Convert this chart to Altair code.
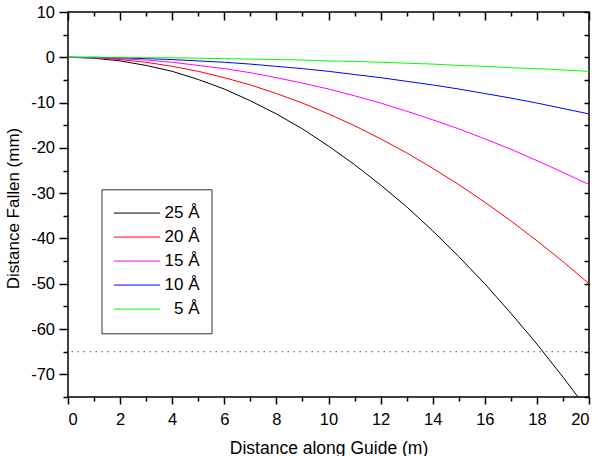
import altair as alt
import pandas as pd

FONT = "Liberation Sans"

# Distance along the guide (m)
distance_m = list(range(0, 21))

# Fall of the beam (mm) for each neutron wavelength
fall_25 = [0, -0.2, -0.8, -1.8, -3.1, -4.9, -7.0, -9.6, -12.5, -15.8, -19.6,
           -23.7, -28.2, -33.0, -38.3, -44.0, -50.0, -56.5, -63.3, -70.6, -78.2]
fall_20 = [0, -0.1, -0.5, -1.1, -2.0, -3.1, -4.5, -6.1, -8.0, -10.1, -12.5,
           -15.1, -18.0, -21.1, -24.5, -28.1, -32.0, -36.1, -40.5, -45.1, -50.0]
fall_15 = [0, -0.1, -0.3, -0.6, -1.1, -1.8, -2.5, -3.4, -4.5, -5.7, -7.0,
           -8.5, -10.1, -11.9, -13.8, -15.8, -18.0, -20.3, -22.8, -25.4, -28.1]
fall_10 = [0, 0.0, -0.1, -0.3, -0.5, -0.8, -1.1, -1.5, -2.0, -2.5, -3.1,
           -3.8, -4.5, -5.3, -6.1, -7.0, -8.0, -9.0, -10.1, -11.3, -12.5]
fall_5 = [0, 0.0, 0.0, -0.1, -0.1, -0.2, -0.3, -0.4, -0.5, -0.6, -0.8,
          -0.9, -1.1, -1.3, -1.5, -1.8, -2.0, -2.3, -2.5, -2.8, -3.1]

wavelengths = ["25 Å", "20 Å", "15 Å", "10 Å", "5 Å"]
line_colors = ["#000000", "#ff0000", "#ff00ff", "#0000ff", "#00ff00"]

# Guide aperture limit (mm)
limit_mm = [-65]

rows = []
for label, series in zip(wavelengths, [fall_25, fall_20, fall_15, fall_10, fall_5]):
    for x, y in zip(distance_m, series):
        rows.append({"distance": x, "fallen": y, "wavelength": label})
df = pd.DataFrame(rows)

W, H = 521, 385
x_scale = alt.Scale(domain=[0, 20], nice=False)
y_scale = alt.Scale(domain=[-75, 10], nice=False, zero=False)

major_x = list(range(0, 21, 2))
minor_x = list(range(1, 20, 2))
major_y = list(range(-70, 11, 10))
minor_y = list(range(-75, 10, 10))
all_y = list(range(-75, 11, 5))

common = dict(domain=False, grid=False, tickColor="black", tickWidth=1.5)
# plain hyphen for negative tick labels
hyphen = "replace(datum.label, '\u2212', '-')"


def blank_axis(orient, values, size, offset=0):
    return alt.Axis(orient=orient, values=values, tickSize=size, labels=False,
                    title=None, offset=offset, **common)


base = alt.Chart(df)

curves = base.mark_line(strokeWidth=1, clip=True).encode(
    x=alt.X("distance:Q", scale=x_scale,
            axis=alt.Axis(orient="bottom", values=major_x, tickSize=7,
                          labelPadding=7, labelFontSize=16.5, labelFont=FONT,
                          labelColor="black",
                          title="Distance along Guide (m)", titleFont=FONT,
                          titleFontSize=17.5, titleFontWeight="normal",
                          titleColor="black", titleBaseline="alphabetic",
                          titleY=56, **common)),
    y=alt.Y("fallen:Q", scale=y_scale,
            axis=alt.Axis(orient="left", values=major_y, tickSize=9,
                          labelPadding=4.5, labelFontSize=16.5, labelFont=FONT,
                          labelColor="black", labelExpr=hyphen,
                          title="Distance Fallen (mm)", titleFont=FONT,
                          titleFontSize=17, titleFontWeight="normal",
                          titleColor="black", titleBaseline="alphabetic",
                          titleX=-50, titleY=196, **common)),
    color=alt.Color("wavelength:N",
                    scale=alt.Scale(domain=wavelengths, range=line_colors),
                    legend=alt.Legend(title=None, orient="none",
                                      legendX=33.5, legendY=177.3,
                                      symbolType="stroke", symbolSize=2116,
                                      symbolStrokeWidth=1, labelFontSize=17,
                                      labelFont=FONT, labelColor="black",
                                      labelAlign="right",
                                      labelOffset=39, padding=12,
                                      clipHeight=23.5, rowPadding=0,
                                      strokeColor="#333333")),
)

# minor ticks on bottom and left
minor_ticks = base.mark_line(opacity=0).encode(
    x=alt.X("distance:Q", scale=x_scale, axis=blank_axis("bottom", minor_x, 4)),
    y=alt.Y("fallen:Q", scale=y_scale, axis=blank_axis("left", minor_y, 5)),
    detail="wavelength:N",
)

# inward ticks along the top and right edges
top_right = base.mark_line(opacity=0).encode(
    x=alt.X("distance:Q", scale=x_scale,
            axis=blank_axis("bottom", major_x, 8, offset=-H)),
    y=alt.Y("fallen:Q", scale=y_scale,
            axis=blank_axis("left", all_y, 5, offset=-W)),
    detail="wavelength:N",
)

top_minor = base.mark_line(opacity=0).encode(
    x=alt.X("distance:Q", scale=x_scale,
            axis=blank_axis("bottom", minor_x, 4, offset=-H)),
    y=alt.Y("fallen:Q", scale=y_scale, axis=None),
    detail="wavelength:N",
)

limit_line = alt.Chart(pd.DataFrame({"fallen": limit_mm})).mark_rule(
    color="#555555", strokeWidth=1, strokeDash=[1.5, 4.5]
).encode(y=alt.Y("fallen:Q", scale=y_scale, axis=None))

chart = (
    alt.layer(limit_line, minor_ticks, top_right, top_minor, curves)
    .resolve_axis(x="independent", y="independent")
    .properties(width=W, height=H, autosize=alt.AutoSizeParams(type="none"),
                padding={"left": 68, "top": 12, "right": 9, "bottom": 59},
                background="white")
    .configure_view(stroke="black", strokeWidth=1.5)
)

chart.save("out.html", embed_options={"renderer": "svg", "actions": False})
